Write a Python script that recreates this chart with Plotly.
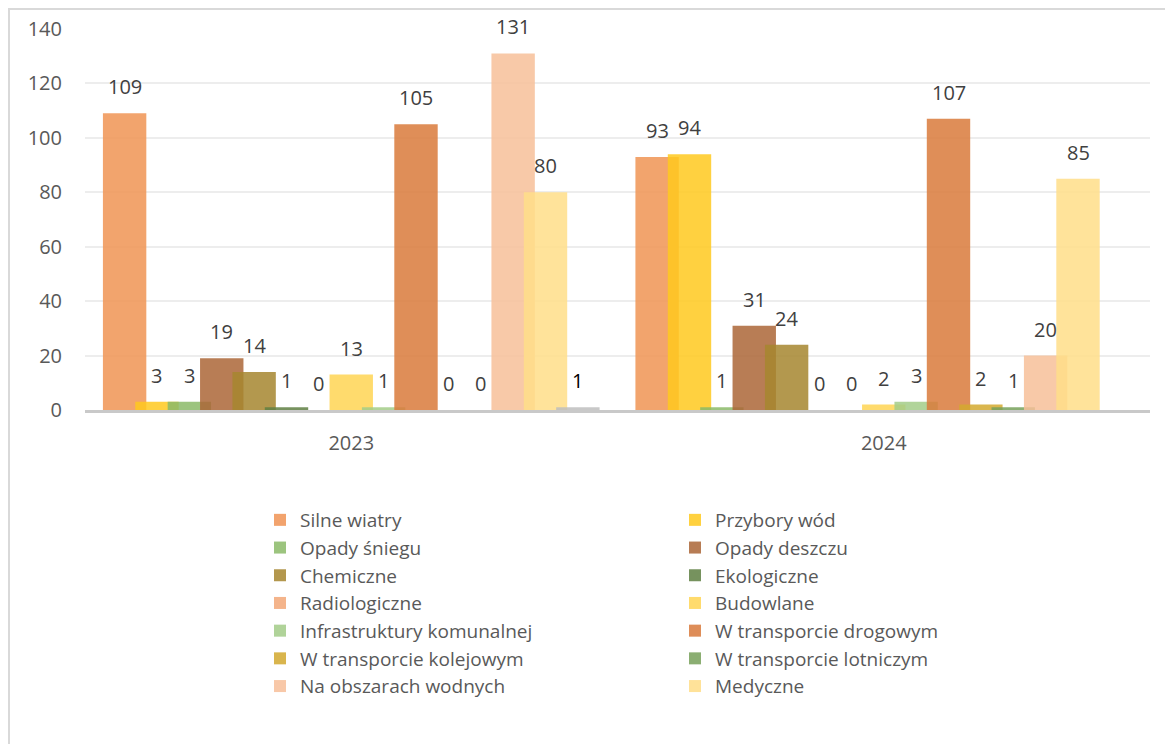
import plotly.graph_objects as go

years = ["2023", "2024"]
series = [
    "Silne wiatry", "Przybory wód", "Opady śniegu", "Opady deszczu",
    "Chemiczne", "Ekologiczne", "Radiologiczne", "Budowlane",
    "Infrastruktury komunalnej", "W transporcie drogowym",
    "W transporcie kolejowym", "W transporcie lotniczym",
    "Na obszarach wodnych", "Medyczne",
]
values_2023 = [109, 3, 3, 19, 14, 1, 0, 13, 1, 105, 0, 0, 131, 80]
values_2024 = [93, 94, 1, 31, 24, 0, 0, 2, 3, 107, 2, 1, 20, 85]
# unnamed grey series, only present in 2023 (no legend entry)
extra_2023 = [1]

colors = [
    "#F2A46E", "#FFD140", "#9CC47F", "#B87D55", "#B3984E", "#77925F",
    "#F5B48B", "#FFDB6E", "#B1D49A", "#DF8E58", "#DAB64E", "#8BAF73",
    "#F8C9A8", "#FFE39A",
]
extra_color = "#C8C8C8"

ALPHA = 0.85
STRIDE = 0.0608   # distance between bar centres (category units)
BAR_W = 0.0815    # bar width, bars overlap a little like in Excel
MID = 7           # 15 slots per category, slot 7 sits on the category centre


def under_alpha(hexcol):
    # colour that gives hexcol on white once drawn with ALPHA
    h = hexcol.lstrip("#")
    rgb = [int(h[i:i + 2], 16) for i in (0, 2, 4)]
    out = [max(0, min(255, round((c - (1 - ALPHA) * 255) / ALPHA))) for c in rgb]
    return "rgb(%d,%d,%d)" % tuple(out)


fig = go.Figure()
annotations = []

for k, name in enumerate(series):
    ys = [values_2023[k], values_2024[k]]
    fig.add_trace(go.Bar(
        x=[0, 1], y=ys, name=name,
        offset=(k - MID) * STRIDE - BAR_W / 2, width=BAR_W,
        marker=dict(color=under_alpha(colors[k]), line=dict(width=0)),
        opacity=ALPHA,
    ))
    for i, v in enumerate(ys):
        annotations.append(dict(
            x=i + (k - MID) * STRIDE, y=v, xref="x", yref="y",
            text=str(v), showarrow=False, yanchor="bottom", yshift=11,
            font=dict(size=20, color="#404040"),
        ))

fig.add_trace(go.Bar(
    x=[0], y=extra_2023, showlegend=False,
    offset=(14 - MID) * STRIDE - BAR_W / 2, width=BAR_W,
    marker=dict(color=under_alpha(extra_color), line=dict(width=0)),
    opacity=ALPHA,
))
annotations.append(dict(
    x=0 + (14 - MID) * STRIDE, y=extra_2023[0], xref="x", yref="y",
    text=str(extra_2023[0]), showarrow=False, yanchor="bottom", yshift=11,
    font=dict(size=20, color="#000000"),
))

# page body adds an 8px offset, so everything is placed 8px up/left
L, R, T, B = 77, 31, 21, 342
W, H = 1173, 744
pw, ph = W - L - R, H - T - B
# chart outline (light grey frame, cut off at right / bottom like the source)
fig.add_shape(type="rect", xref="paper", yref="paper",
              x0=(1 - L) / pw, x1=(W + 20 - L) / pw,
              y0=(H - B - (H + 20)) / ph, y1=(H - B - 1) / ph,
              line=dict(color="#D9D9D9", width=2), layer="below")

fig.update_layout(
    width=W, height=H,
    margin=dict(l=L, r=R, t=T, b=B, autoexpand=False),
    barmode="overlay",
    paper_bgcolor="white", plot_bgcolor="white",
    font=dict(family="Open Sans", size=20, color="#595959"),
    annotations=annotations,
    legend=dict(
        orientation="h", xref="container", yref="container",
        x=252 / W, y=1 - 493 / H, xanchor="left", yanchor="top",
        entrywidth=370, traceorder="normal",
        font=dict(size=19, color="#595959"),
    ),
    xaxis=dict(
        range=[-0.5, 1.5], tickvals=[0, 1], ticktext=years,
        showgrid=False, zeroline=False, showline=True, automargin=False,
        linecolor="#C9C9C9", linewidth=3, ticks="",
        ticklabelstandoff=13, tickfont=dict(size=20, color="#595959"),
    ),
    yaxis=dict(
        range=[0, 140], dtick=20, showgrid=True, gridcolor="#EDEDED",
        gridwidth=1.5, zeroline=False, showline=False, ticks="", automargin=False,
        ticklabelstandoff=22, tickfont=dict(size=20, color="#595959"),
    ),
)

fig.write_html("out.html")
